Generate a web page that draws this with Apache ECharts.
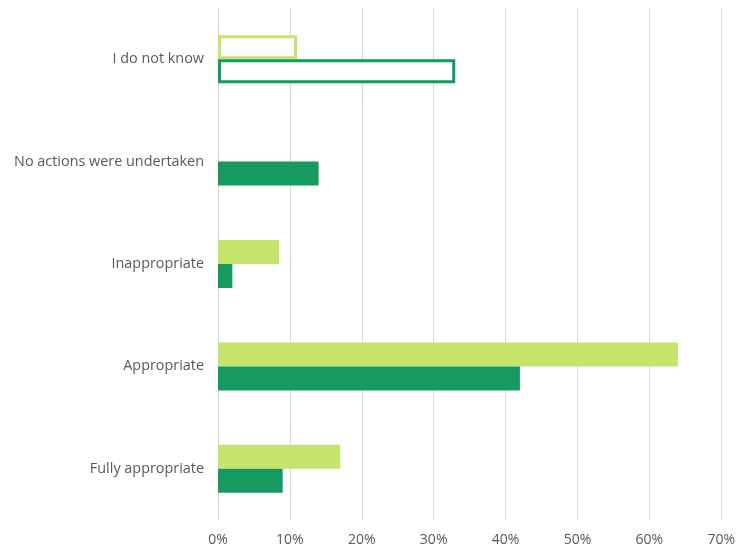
<!DOCTYPE html>
<html>
<head>
<meta charset="utf-8">
<script src="https://cdn.jsdelivr.net/npm/echarts@6/dist/echarts.min.js"></script>
<style>
  html, body { margin: 0; padding: 0; background: #fff; }
  #chart { width: 738px; height: 549px; }
</style>
</head>
<body>
<div id="chart"></div>
<script>
// Categories listed bottom to top (ECharts category y axis starts at the bottom)
const categories = ['Fully appropriate', 'Appropriate', 'Inappropriate', 'No actions were undertaken', 'I do not know'];
// Percent shares per category, same order as categories
const lightValues = [17, 64, 8.5, 0, 11];
const darkValues = [9, 42, 2, 14, 33];
const xTicks = [0, 10, 20, 30, 40, 50, 60, 70];

const LIGHT = '#c5e46e';
const DARK = '#169a5f';
const OUTLINED = 'I do not know';

function toData(values, color) {
  return values.map((v, i) => {
    if (categories[i] === OUTLINED) {
      return { value: v, itemStyle: { color: '#ffffff', borderColor: color, borderWidth: 3 } };
    }
    return { value: v, itemStyle: { color: color } };
  });
}

const chart = echarts.init(document.getElementById('chart'), null, { renderer: 'canvas' });
chart.setOption({
  animation: false,
  backgroundColor: '#ffffff',
  grid: { left: 218, right: 15, top: 8, bottom: 29, containLabel: false },
  xAxis: {
    type: 'value',
    min: xTicks[0],
    max: xTicks[xTicks.length - 1],
    interval: 10,
    axisLine: { show: false },
    axisTick: { show: false },
    splitLine: { show: true, lineStyle: { color: '#d9d9d9', width: 1 } },
    axisLabel: {
      formatter: v => v + '%',
      color: '#595959',
      fontFamily: 'Open Sans',
      fontSize: 14,
      margin: 13
    }
  },
  yAxis: {
    type: 'category',
    data: categories,
    axisLine: { show: false },
    axisTick: { show: false },
    splitLine: { show: false },
    axisLabel: {
      color: '#595959',
      fontFamily: 'Open Sans',
      fontSize: 14.4,
      margin: 14
    }
  },
  series: [
    {
      type: 'bar',
      name: 'light',
      data: toData(lightValues, LIGHT),
      barWidth: 24,
      barGap: '0%'
    },
    {
      type: 'bar',
      name: 'dark',
      data: toData(darkValues, DARK),
      barWidth: 24,
      barGap: '0%'
    }
  ]
});
</script>
</body>
</html>
